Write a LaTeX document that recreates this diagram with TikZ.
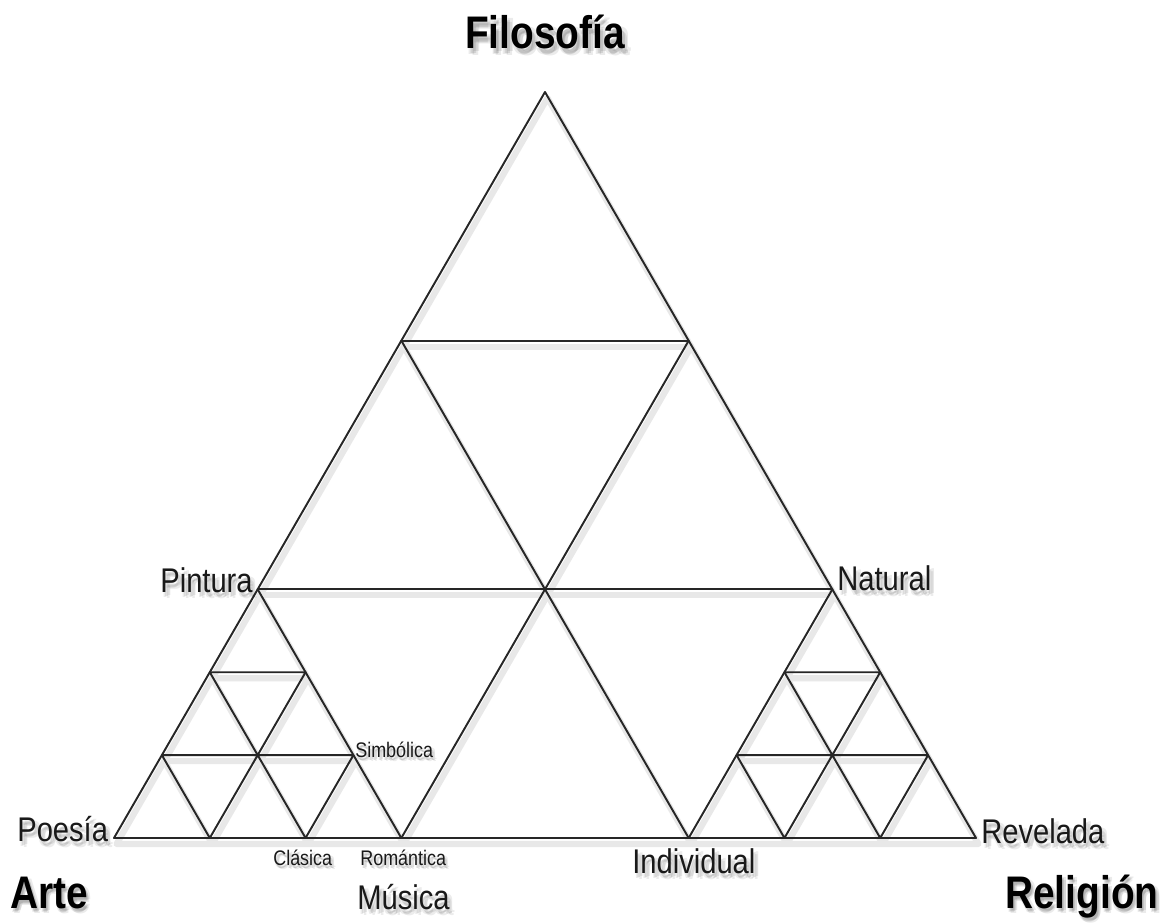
\documentclass[tikz,border=0pt]{standalone}
\usepackage{fontspec}
\setmainfont{Liberation Sans}
\newfontfamily\labfont[FakeStretch=0.85]{Liberation Sans}
\newcommand\mygrid[1]{%
  \draw[#1] (A) -- (D1) -- (D4) -- cycle;
  \draw[#1] (B1) -- (B2);
  \draw[#1] (C1) -- (C3);
  \draw[#1] (D2) -- (B2);
  \draw[#1] (D3) -- (B1);
  \draw[#1] (D2) -- (C1);
  \draw[#1] (D3) -- (C3);
  \draw[#1] (la1) -- (la2) (lb1) -- (lb3) (lc1) -- (la2) (lc2) -- (lb3) (lc1) -- (lb1) (lc2) -- (la1);
  \draw[#1] (ra1) -- (ra2) (rb1) -- (rb3) (rc1) -- (ra2) (rc2) -- (rb3) (rc1) -- (rb1) (rc2) -- (ra1);
}
% shadowed label: #1 style, #2 name, #3 position, #4 text, #5 shadow scale
\newcommand\shlabel[5]{%
  \foreach \dx/\dy/\op in {1.4/-2.6/0.10, 2.4/-3.6/0.08, 0.6/-3.2/0.08, 2.8/-1.8/0.08} {
    \node[#1, text opacity=\op, xshift={#5*\dx pt}, yshift={#5*\dy pt}] at #3 {#4};
  }
  \node[#1] (#2) at #3 {#4};
}
\begin{document}
\begin{tikzpicture}[x=0.02cm,y=-0.02cm,
  edge/.style={line width=1.1pt, draw=black!85, line cap=round, line join=round},
  shadowedge/.style={line width=3.5pt, draw=black!9, line cap=round, line join=round},
  lab/.style={inner sep=0pt, anchor=base west, text=black!90, font=\labfont\fontsize{19.5}{21}\selectfont},
  labr/.style={lab, anchor=base east},
  small/.style={inner sep=0pt, anchor=base west, text=black!90, font=\labfont\fontsize{12}{14}\selectfont},
  big/.style={inner sep=0pt, anchor=base west, text=black, font=\labfont\bfseries\fontsize{26}{28}\selectfont},
  bigc/.style={big, anchor=base}]
\useasboundingbox (0,0) rectangle (1163,923);
\fill[white] (0,0) rectangle (1163,923);
% main grid vertices
\coordinate (A) at (545,92);
\coordinate (B1) at (401.33,340.67);
\coordinate (B2) at (688.67,340.67);
\coordinate (C1) at (257.67,589.33);
\coordinate (C2) at (545,589.33);
\coordinate (C3) at (832.33,589.33);
\coordinate (D1) at (114,838);
\coordinate (D2) at (401.33,838);
\coordinate (D3) at (688.67,838);
\coordinate (D4) at (976,838);
% left sub-triangle
\coordinate (la1) at (209.78,672.22);
\coordinate (la2) at (305.56,672.22);
\coordinate (lb1) at (161.89,755.11);
\coordinate (lb3) at (353.44,755.11);
\coordinate (lc1) at (209.78,838);
\coordinate (lc2) at (305.56,838);
% right sub-triangle
\coordinate (ra1) at (784.44,672.22);
\coordinate (ra2) at (880.22,672.22);
\coordinate (rb1) at (736.56,755.11);
\coordinate (rb3) at (928.11,755.11);
\coordinate (rc1) at (784.44,838);
\coordinate (rc2) at (880.22,838);
% shadow and lines
\begin{scope}[transform canvas={shift={(2.5,6)}}]
  \mygrid{shadowedge}
\end{scope}
\mygrid{edge}
% labels
\shlabel{bigc}{filo}{(545,48)}{Filosofía}{1.2}
\shlabel{labr}{pint}{(253,592)}{Pintura}{1}
\shlabel{lab}{nat}{(837,590)}{Natural}{1}
\shlabel{lab}{poes}{(17,841)}{Poesía}{1}
\shlabel{lab}{rev}{(981,843)}{Revelada}{1}
\shlabel{lab}{indiv}{(632,873)}{Individual}{1}
\shlabel{lab}{mus}{(357,909)}{Música}{1}
\shlabel{big}{arte}{(10,908)}{Arte}{0.8}
\shlabel{big}{relig}{(1005,908)}{Religión}{0.8}
\shlabel{small}{simb}{(355,757)}{Simbólica}{0.7}
\shlabel{small}{clas}{(273,865)}{Clásica}{0.7}
\shlabel{small}{rom}{(360,865)}{Romántica}{0.7}
\end{tikzpicture}
\end{document}
